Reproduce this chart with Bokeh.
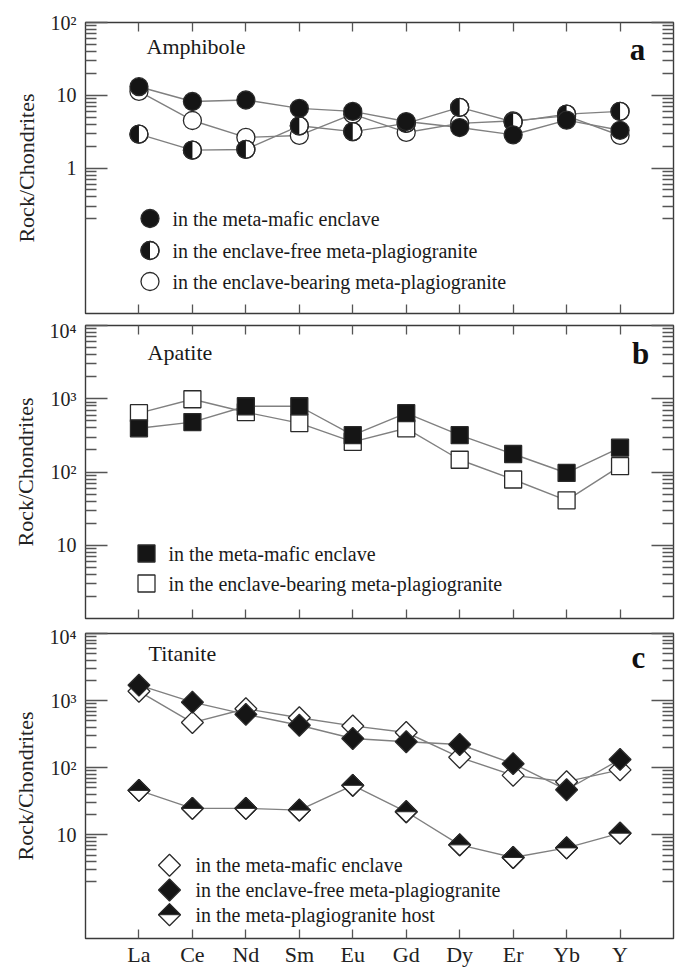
import numpy as np
from bokeh.plotting import figure
from bokeh.models import Range1d, LinearScale, FixedTicker, LogAxis, LinearAxis, CustomJSTickFormatter
from bokeh.layouts import column
from bokeh.embed import file_html
from bokeh.resources import INLINE
from bokeh.core.properties import value

# ---------------- data ----------------
elements = ["La", "Ce", "Nd", "Sm", "Eu", "Gd", "Dy", "Er", "Yb", "Y"]

# Amphibole (panel a)
amph_mafic_enclave = [13.1, 8.2, 8.6, 6.6, 6.0, 4.35, 3.6, 2.86, 4.55, 3.3]
amph_enclave_free = [2.92, 1.76, 1.8, 3.8, 3.16, 4.1, 6.8, 4.3, 5.5, 6.0]
amph_enclave_bearing = [11.3, 4.5, 2.63, 2.8, 5.5, 3.08, 4.1, 4.45, 5.2, 2.8]

# Apatite (panel b)
apat_mafic_enclave = [395, 480, 790, 790, 318, 635, 318, 176, 97, 215]
apat_enclave_bearing = [635, 985, 655, 465, 258, 395, 147, 79, 41, 120]

# Titanite (panel c)
tit_mafic_enclave = [1377, 471, 757, 557, 420, 335, 143, 77, 62, 93]
tit_enclave_free = [1700, 948, 624, 430, 273, 244, 222, 115, 47, 133]
tit_host = [46, 24.8, 24.8, 23.4, 54.7, 22.1, 7.1, 4.6, 6.4, 10.6]

titles = ["Amphibole", "Apatite", "Titanite"]
letters = ["a", "b", "c"]
legend_a = ["in the meta-mafic enclave",
            "in the  enclave-free meta-plagiogranite",
            "in the enclave-bearing meta-plagiogranite"]
legend_b = ["in the meta-mafic enclave",
            "in the enclave-bearing meta-plagiogranite"]
legend_c = ["in the meta-mafic enclave",
            "in the enclave-free meta-plagiogranite",
            "in the meta-plagiogranite host"]

ticks_a = [1, 10, 100]
minor_a = [0.2, 0.3, 0.4, 0.5, 0.6, 0.7, 0.8, 0.9] + [k * d for d in (1, 10) for k in range(2, 10)]
labels_a = {1: "1", 10: "10", 100: "10\u00b2"}
ticks_bc = [10, 100, 1000, 10000]
minor_bc = [k * d for d in (1, 10, 100, 1000) for k in range(2, 10)]
labels_bc = {10: "10", 100: "10\u00b2", 1000: "10\u00b3", 10000: "10\u2074"}

# ---------------- style ----------------
FONT = "'Liberation Serif', 'Times New Roman', serif"
W = 680
BL, BR = 85, 7
FW = W - BL - BR
XR = (0, 11)
LINE_C = "#808080"
INK = "#151515"
EDGE = "#2a2a2a"
TICK_C = "#555555"


def hide_labels(ax):
    ax.formatter = CustomJSTickFormatter(code="return ''")
    ax.major_label_text_font_size = "1px"
    ax.major_label_text_alpha = 0
    ax.major_label_standoff = 0


def make_fig(h, bt, bb, ylo, yhi, majors, minors, labels, top_ticks, x_labels):
    fh = h - bt - bb
    p = figure(width=W, height=h, x_range=Range1d(*XR), y_range=Range1d(ylo, yhi),
               y_axis_type="log", x_axis_location=None, y_axis_location=None,
               output_backend="svg", toolbar_location=None,
               min_border_left=BL, min_border_right=BR,
               min_border_top=bt, min_border_bottom=bb)
    p.extra_x_ranges = {"px": Range1d(0, FW)}
    p.extra_y_ranges = {"py": Range1d(0, fh)}
    p.extra_x_scales = {"px": LinearScale()}
    p.extra_y_scales = {"py": LinearScale()}
    p.outline_line_color = "#3a3a3a"
    p.outline_line_width = 1.4
    p.background_fill_color = "white"
    p.border_fill_color = "white"
    p.grid.visible = False
    p.xgrid.grid_line_color = None
    p.ygrid.grid_line_color = None

    for loc in ("left", "right"):
        ax = LogAxis(ticker=FixedTicker(ticks=majors, minor_ticks=minors))
        ax.axis_line_color = None
        ax.major_tick_in = 22
        ax.major_tick_out = 0
        ax.minor_tick_in = 11
        ax.minor_tick_out = 0
        ax.major_tick_line_color = TICK_C
        ax.minor_tick_line_color = TICK_C
        ax.major_tick_line_width = 1.3
        ax.minor_tick_line_width = 1.3
        if loc == "left":
            ax.major_label_overrides = labels
            ax.major_label_text_font = FONT
            ax.major_label_text_font_size = "20px"
            ax.major_label_text_color = "#222222"
            ax.major_label_standoff = 9
            ax.axis_label = "Rock/Chondrites"
            ax.axis_label_text_font = FONT
            ax.axis_label_text_font_size = "22px"
            ax.axis_label_text_font_style = "normal"
            ax.axis_label_text_color = "#222222"
            ax.axis_label_standoff = 9
        else:
            hide_labels(ax)
        p.add_layout(ax, loc)

    locs = ["below"] + (["above"] if top_ticks else [])
    for loc in locs:
        ax = LinearAxis(ticker=FixedTicker(ticks=list(range(1, len(elements) + 1))))
        ax.axis_line_color = None
        ax.major_tick_in = 9
        ax.major_tick_out = 0
        ax.minor_tick_in = 0
        ax.minor_tick_out = 0
        ax.major_tick_line_color = TICK_C
        ax.major_tick_line_width = 1.3
        if loc == "below" and x_labels:
            ax.major_label_overrides = {i + 1: e for i, e in enumerate(elements)}
            ax.major_label_text_font = FONT
            ax.major_label_text_font_size = "22px"
            ax.major_label_text_color = "#222222"
            ax.major_label_standoff = 3
        else:
            hide_labels(ax)
        p.add_layout(ax, loc)
    return p, fh


def add_texts(p, title, letter, tx, ty, lx, ly):
    p.text(x=[tx], y=[ty], text=[title], x_range_name="px", y_range_name="py",
           text_font=value(FONT), text_font_size="22px", text_color="#1a1a1a",
           text_baseline="middle", text_align="left")
    p.text(x=[lx], y=[ly], text=[letter], x_range_name="px", y_range_name="py",
           text_font=value(FONT), text_font_size="31px", text_font_style="bold",
           text_color="#111111", text_baseline="middle", text_align="center")


def add_legend_text(p, labels, x, ys):
    p.text(x=[x] * len(labels), y=ys, text=labels, x_range_name="px", y_range_name="py",
           text_font=value(FONT), text_font_size="20px", text_color="#1a1a1a",
           text_baseline="middle", text_align="left")


xs = list(range(1, len(elements) + 1))
px_per_x = FW / (XR[1] - XR[0])

# ---------------- panel a : amphibole ----------------
pa, fha = make_fig(319, 22, 6, 0.01, 100, ticks_a, minor_a, labels_a, True, False)
dec_a = fha / 4.0
for ser in (amph_enclave_bearing, amph_enclave_free, amph_mafic_enclave):
    pa.line(xs, ser, line_color=LINE_C, line_width=1.4)
CS = 18
R = CS / 2
th = np.linspace(np.pi / 2, 3 * np.pi / 2, 25)
pa.scatter(xs, amph_enclave_bearing, marker="circle", size=CS, fill_color="white", line_color=EDGE, line_width=1.3)
pa.scatter(xs, amph_enclave_free, marker="circle", size=CS, fill_color="white", line_color=EDGE, line_width=1.3)
pa.patches([list(x + R * np.cos(th) / px_per_x) for x in xs],
           [list(v * 10 ** (R * np.sin(th) / dec_a)) for v in amph_enclave_free],
           fill_color=INK, line_color=None)
pa.scatter(xs, amph_enclave_free, marker="circle", size=CS, fill_color=None, line_color=EDGE, line_width=1.3)
pa.scatter(xs, amph_mafic_enclave, marker="circle", size=CS, fill_color=INK, line_color=EDGE, line_width=1.3)

add_texts(pa, titles[0], letters[0], 61, fha - 24, 552, fha - 27)
lgx, lgy = 64.5, [95, 63, 32]
pa.scatter([lgx], [lgy[0]], marker="circle", size=CS, fill_color=INK, line_color=EDGE, line_width=1.3,
           x_range_name="px", y_range_name="py")
pa.scatter([lgx], [lgy[1]], marker="circle", size=CS, fill_color="white", line_color=EDGE, line_width=1.3,
           x_range_name="px", y_range_name="py")
pa.patches([list(lgx + R * np.cos(th))], [list(lgy[1] + R * np.sin(th))], fill_color=INK, line_color=None,
           x_range_name="px", y_range_name="py")
pa.scatter([lgx], [lgy[1]], marker="circle", size=CS, fill_color=None, line_color=EDGE, line_width=1.3,
           x_range_name="px", y_range_name="py")
pa.scatter([lgx], [lgy[2]], marker="circle", size=CS, fill_color="white", line_color=EDGE, line_width=1.3,
           x_range_name="px", y_range_name="py")
add_legend_text(pa, legend_a, 87, lgy)

# ---------------- panel b : apatite ----------------
pb, fhb = make_fig(306, 6, 7, 1, 1e4, ticks_bc, minor_bc, labels_bc, True, False)
for ser in (apat_enclave_bearing, apat_mafic_enclave):
    pb.line(xs, ser, line_color=LINE_C, line_width=1.4)
SS = 17
pb.scatter(xs, apat_enclave_bearing, marker="square", size=SS, fill_color="white", line_color=EDGE, line_width=1.3)
pb.scatter(xs, apat_mafic_enclave, marker="square", size=SS, fill_color=INK, line_color=EDGE, line_width=1.3)
add_texts(pb, titles[1], letters[1], 62, fhb - 27, 555, fhb - 28)
lbx, lby = 61, [65, 35]
pb.scatter([lbx], [lby[0]], marker="square", size=SS, fill_color=INK, line_color=EDGE, line_width=1.3,
           x_range_name="px", y_range_name="py")
pb.scatter([lbx], [lby[1]], marker="square", size=SS, fill_color="white", line_color=EDGE, line_width=1.3,
           x_range_name="px", y_range_name="py")
add_legend_text(pb, legend_b, 83, lby)

# ---------------- panel c : titanite ----------------
YLO_C = 0.286
pc, fhc = make_fig(344, 8, 28, YLO_C, 1e4, ticks_bc, minor_bc, labels_bc, False, True)
for ser in (tit_mafic_enclave, tit_enclave_free, tit_host):
    pc.line(xs, ser, line_color=LINE_C, line_width=1.4)
DS = 15.5                      # side of the rotated square
HD = DS / np.sqrt(2)           # half diagonal in px
pc.scatter(xs, tit_mafic_enclave, marker="square", angle=np.pi / 4, size=DS, fill_color="white",
           line_color=EDGE, line_width=1.3)
pc.scatter(xs, tit_enclave_free, marker="square", angle=np.pi / 4, size=DS, fill_color=INK,
           line_color=EDGE, line_width=1.3)
dec_c = fhc / (4 - np.log10(YLO_C))
dx = HD / px_per_x
kf = 10 ** (HD / dec_c)
pc.scatter(xs, tit_host, marker="square", angle=np.pi / 4, size=DS, fill_color="white",
           line_color=EDGE, line_width=1.3)
pc.patches([[x - dx, x, x + dx] for x in xs], [[v, v * kf, v] for v in tit_host],
           fill_color=INK, line_color=EDGE, line_width=1.0)
pc.scatter(xs, tit_host, marker="square", angle=np.pi / 4, size=DS, fill_color=None,
           line_color=EDGE, line_width=1.3)
add_texts(pc, titles[2], letters[2], 63, fhc - 20, 553, fhc - 24)
lcx, lcy = 84, [74, 49, 24]
pc.scatter([lcx], [lcy[0]], marker="square", angle=np.pi / 4, size=DS, fill_color="white",
           line_color=EDGE, line_width=1.3, x_range_name="px", y_range_name="py")
pc.scatter([lcx], [lcy[1]], marker="square", angle=np.pi / 4, size=DS, fill_color=INK,
           line_color=EDGE, line_width=1.3, x_range_name="px", y_range_name="py")
pc.scatter([lcx], [lcy[2]], marker="square", angle=np.pi / 4, size=DS, fill_color="white",
           line_color=EDGE, line_width=1.3, x_range_name="px", y_range_name="py")
pc.patches([[lcx - HD, lcx, lcx + HD]], [[lcy[2], lcy[2] + HD, lcy[2]]], fill_color=INK,
           line_color=EDGE, line_width=1.0, x_range_name="px", y_range_name="py")
add_legend_text(pc, legend_c, 110, lcy)

layout = column(pa, pb, pc, spacing=0)
open("out.html", "w").write(file_html(layout, INLINE))
